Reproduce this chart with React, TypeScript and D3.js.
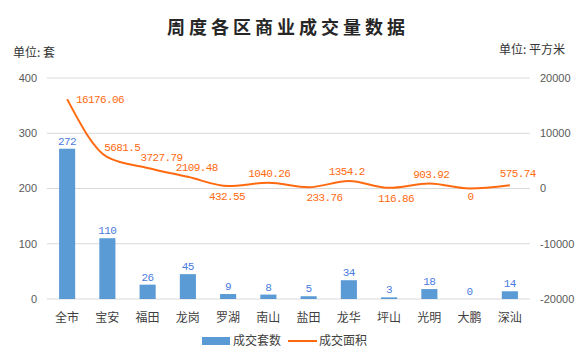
import { scaleBand, scaleLinear, line as d3line, curveMonotoneX } from "d3";

const categories = ["全市", "宝安", "福田", "龙岗", "罗湖", "南山", "盐田", "龙华", "坪山", "光明", "大鹏", "深汕"];
const units = [272, 110, 26, 45, 9, 8, 5, 34, 3, 18, 0, 14];
const areas = [16176.06, 5681.5, 3727.79, 2109.48, 432.55, 1040.26, 233.76, 1354.2, 116.86, 903.92, 0, 575.74];
const leftTicks = [0, 100, 200, 300, 400];
const rightTicks = [-20000, -10000, 0, 10000, 20000];

// label offsets for the area line (layout only)
const areaLabelOffsets: [number, number][] = [
  [33, 0], [15, -10], [14, -11], [9, -10], [-1, 10], [1, -10],
  [16, 10], [-2, -10], [7, 10], [2, -9], [1, 8], [8, -12],
];

const W = 587;
const H = 358;
const left = 47;
const right = 530;
const top = 78;
const bottom = 299;

const BAR = "#5b9bd5";
const LINE = "#ff6a10";
const CJK = "'Noto Sans CJK SC', 'Noto Sans', sans-serif";
const NUM = "'Liberation Mono', 'DejaVu Sans Mono', monospace";

export default function App() {
  const x = scaleBand<string>().domain(categories).range([left, right]).paddingInner(0.6).paddingOuter(0.3);
  const yL = scaleLinear().domain([0, 400]).range([bottom, top]);
  const yR = scaleLinear().domain([-20000, 20000]).range([bottom, top]);
  const cx = (c: string) => (x(c) ?? 0) + x.bandwidth() / 2;

  const pts = categories.map((c, i) => ({ c, v: areas[i] }));
  const path = d3line<{ c: string; v: number }>()
    .x((d) => cx(d.c))
    .y((d) => yR(d.v))
    .curve(curveMonotoneX)(pts) ?? "";

  return (
    <svg width={W} height={H} style={{ position: "absolute", left: 0, top: 0, background: "#fff" }}>
      {/* title */}
      <text x={288} y={34} textAnchor="middle" fontFamily={CJK} fontWeight={600} fontSize={18} letterSpacing={4} fill="#262626">
        周度各区商业成交量数据
      </text>
      <text x={13} y={57} fontFamily={CJK} fontSize={12} fill="#333">单位: 套</text>
      <text x={565} y={54} textAnchor="end" fontFamily={CJK} fontSize={12} fill="#333">单位: 平方米</text>

      {/* gridlines */}
      {leftTicks.map((t) => (
        <line key={t} x1={left} x2={right} y1={yL(t)} y2={yL(t)} stroke="#d9d9d9" strokeWidth={1} />
      ))}
      {leftTicks.map((t) => (
        <text key={t} x={37} y={yL(t)} dy="0.35em" textAnchor="end" fontFamily="'Liberation Sans', Arial, sans-serif" fontSize={11} fill="#595959">
          {t}
        </text>
      ))}
      {rightTicks.map((t) => (
        <text key={t} x={540} y={yR(t)} dy="0.35em" fontFamily="'Liberation Sans', Arial, sans-serif" fontSize={11} fill="#595959">
          {t}
        </text>
      ))}

      {/* bars */}
      {categories.map((c, i) => (
        <rect key={c} x={x(c)} y={yL(units[i])} width={x.bandwidth()} height={bottom - yL(units[i])} fill={BAR} />
      ))}
      {categories.map((c, i) => (
        <text key={c} x={cx(c)} y={yL(units[i]) - 4} textAnchor="middle" fontFamily={NUM} fontSize={11} letterSpacing={-0.6} fill="#4a7ae0">
          {units[i]}
        </text>
      ))}

      {/* area line */}
      <path d={path} fill="none" stroke={LINE} strokeWidth={2} />
      {pts.map((d, i) => (
        <text
          key={d.c}
          x={cx(d.c) + areaLabelOffsets[i][0]}
          y={yR(d.v) + areaLabelOffsets[i][1]}
          dy="0.35em"
          textAnchor="middle"
          fontFamily={NUM}
          fontSize={11}
          letterSpacing={-0.6}
          fill={LINE}
        >
          {d.v}
        </text>
      ))}

      {/* x labels */}
      {categories.map((c) => (
        <text key={c} x={cx(c)} y={322} textAnchor="middle" fontFamily={CJK} fontSize={12} fill="#404040">
          {c}
        </text>
      ))}

      {/* legend */}
      <rect x={202} y={337} width={28} height={8} fill={BAR} />
      <text x={233} y={345} fontFamily={CJK} fontSize={12} fill="#404040">成交套数</text>
      <line x1={288} x2={317} y1={341} y2={341} stroke={LINE} strokeWidth={2} />
      <text x={319} y={345} fontFamily={CJK} fontSize={12} fill="#404040">成交面积</text>
    </svg>
  );
}
